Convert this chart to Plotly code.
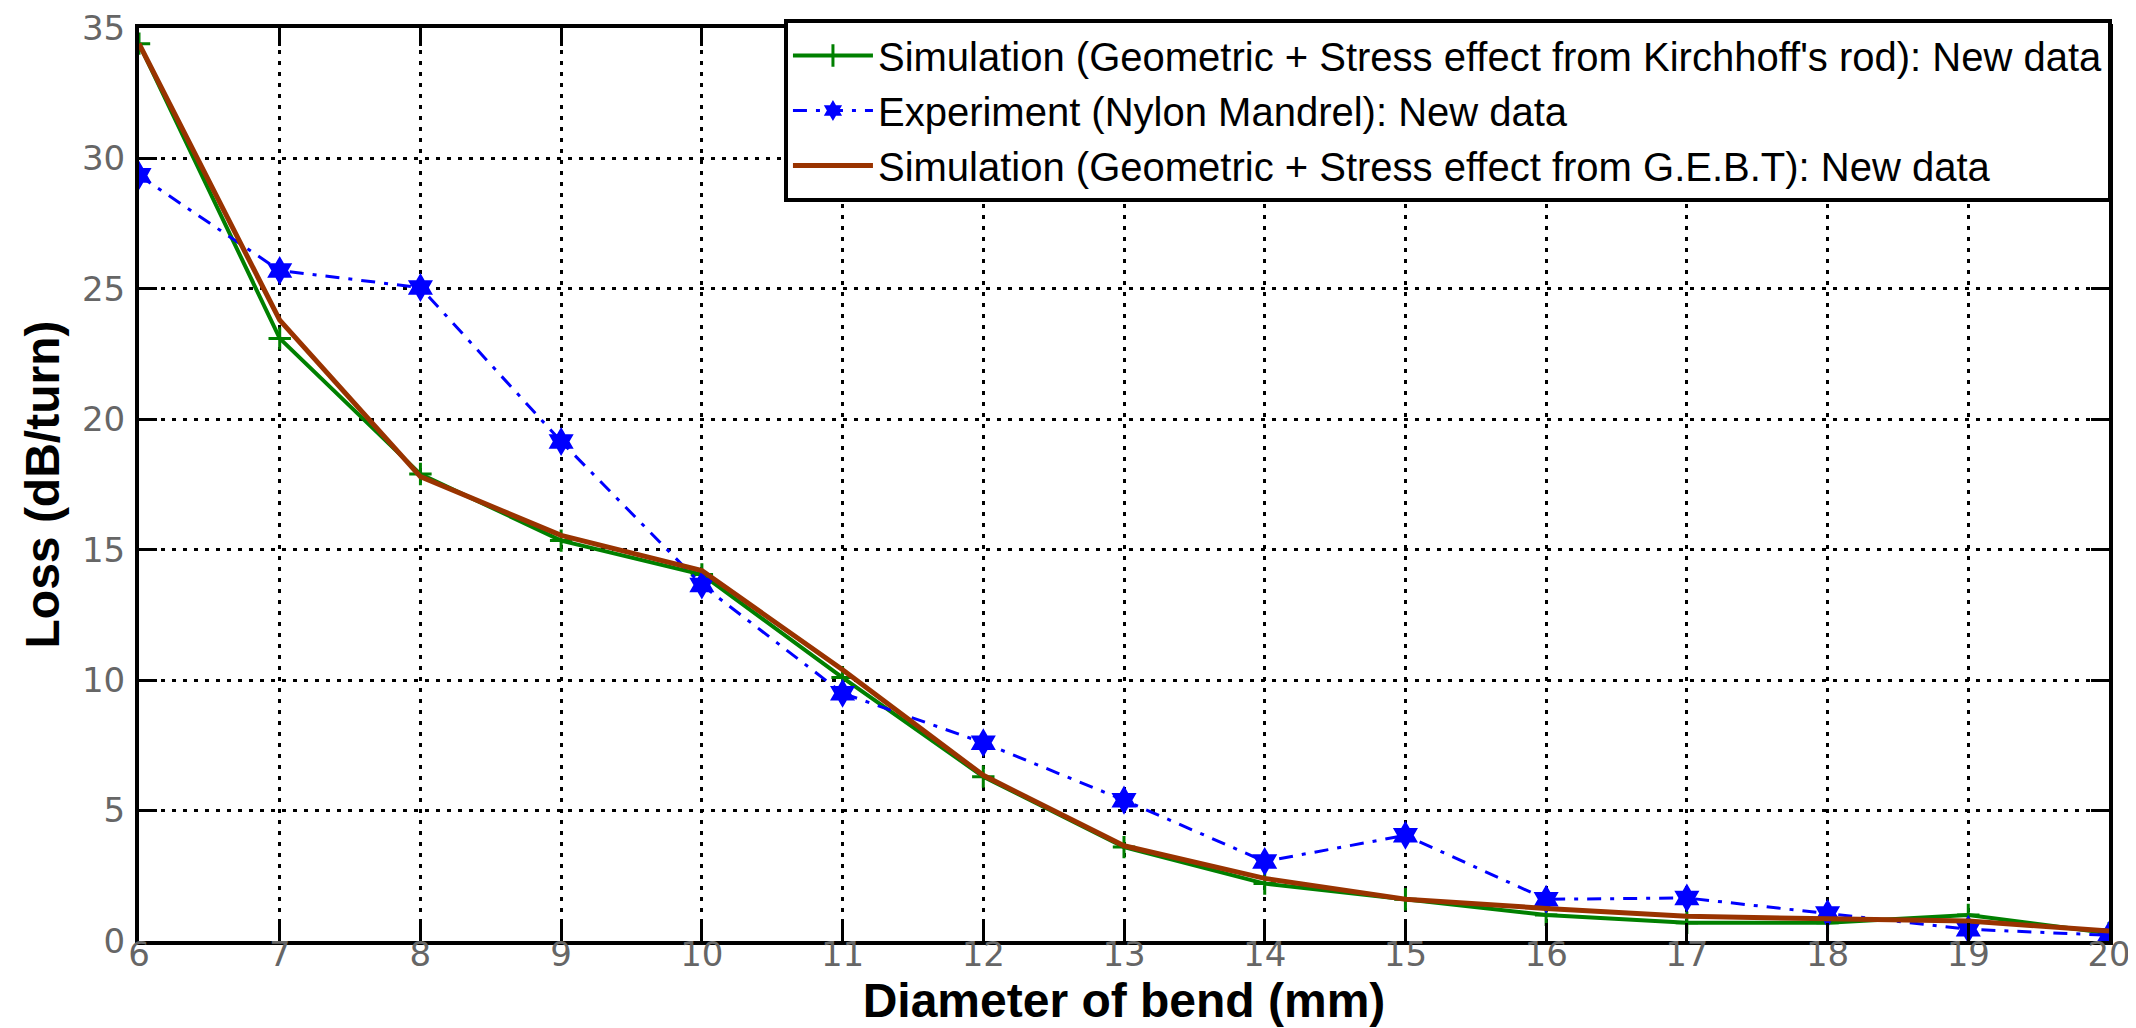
import plotly.graph_objects as go

diameter_mm = [6, 7, 8, 9, 10, 11, 12, 13, 14, 15, 16, 17, 18, 19, 20]
sim_kirchhoff = [34.4, 23.1, 17.9, 15.35, 14.05, 10.1, 6.3, 3.6, 2.2, 1.6, 1.0, 0.7, 0.7, 1.0, 0.3]
experiment_nylon = [29.35, 25.7, 25.05, 19.15, 13.65, 9.5, 7.6, 5.4, 3.05, 4.05, 1.6, 1.65, 1.05, 0.45, 0.22]
sim_gebt = [34.4, 23.8, 17.8, 15.55, 14.2, 10.4, 6.35, 3.65, 2.4, 1.6, 1.25, 0.95, 0.85, 0.77, 0.38]

names = [
    "Simulation (Geometric + Stress effect from Kirchhoff's rod): New data",
    "Experiment (Nylon Mandrel): New data",
    "Simulation (Geometric + Stress effect from G.E.B.T): New data",
]
y_ticks = [0, 5, 10, 15, 20, 25, 30, 35]

fig = go.Figure()
fig.add_trace(go.Scatter(
    x=diameter_mm, y=sim_kirchhoff, name=names[0], mode="lines+markers",
    line=dict(color="#008000", width=4),
    marker=dict(symbol="cross-thin", size=16, color="#008000",
                line=dict(color="#008000", width=3)),
))
fig.add_trace(go.Scatter(
    x=diameter_mm, y=experiment_nylon, name=names[1], mode="lines+markers",
    line=dict(color="#0000ff", width=3, dash="14px,9px,4px,9px"),
    marker=dict(symbol="hexagram", size=22, color="#0000ff"),
))
fig.add_trace(go.Scatter(
    x=diameter_mm, y=sim_gebt, name=names[2], mode="lines",
    line=dict(color="#993300", width=5),
))

axis_common = dict(
    showline=True, linecolor="black", linewidth=4, mirror="ticks",
    ticks="inside", ticklen=18, tickwidth=3, tickcolor="black",
    showgrid=True, gridcolor="black", gridwidth=3, griddash="4px,7px",
    zeroline=False, ticklabeloverflow="allow",
    tickfont=dict(family="DejaVu Sans", size=34, color="#666666"),
)

fig.update_xaxes(
    range=[6, 20], tickmode="array", tickvals=diameter_mm,
    ticktext=[str(v) for v in diameter_mm],
    ticklabelstandoff=-20,
    title=dict(text="Diameter of bend (mm)", standoff=0,
               font=dict(family="Liberation Sans", size=48, color="black", weight="bold")),
    **axis_common,
)
fig.update_yaxes(
    range=[0, 35], tickmode="array", tickvals=y_ticks,
    ticktext=[str(v) for v in y_ticks],
    ticklabelstandoff=3,
    title=dict(text="Loss (dB/turn)", standoff=8,
               font=dict(family="Liberation Sans", size=48, color="black", weight="bold")),
    **axis_common,
)

fig.update_layout(
    width=2136, height=1028, autosize=False,
    paper_bgcolor="white", plot_bgcolor="white",
    margin=dict(l=131, r=35, t=20, b=95, autoexpand=False),
    showlegend=True,
    legend=dict(
        x=1.0015, xanchor="right", y=1.0099, yanchor="top",
        bgcolor="white", bordercolor="black", borderwidth=4,
        font=dict(family="Liberation Sans", size=40, color="black"),
        itemwidth=80, tracegroupgap=0,
        entrywidth=1250, entrywidthmode="pixels",
    ),
)

fig.write_html("out.html")
